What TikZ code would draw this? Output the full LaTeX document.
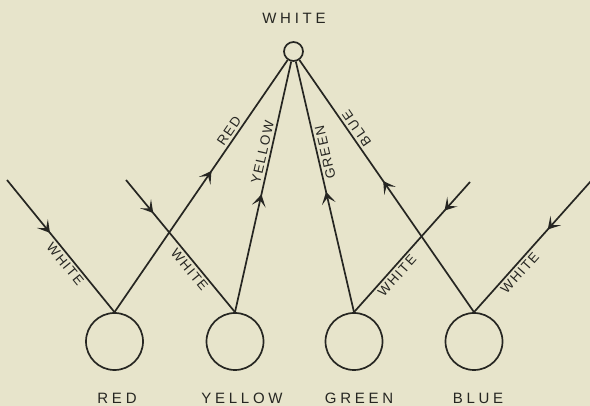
\documentclass[tikz,border=0pt]{standalone}
\usepackage{fontspec}
\setmainfont{Liberation Sans}
\newfontfamily\lblfont[LetterSpace=12]{Liberation Sans}
\newfontfamily\capfont[LetterSpace=25]{Liberation Sans}
\usetikzlibrary{arrows.meta,decorations.markings}
\definecolor{paper}{RGB}{231,228,203}
\definecolor{ink}{RGB}{38,38,34}
\tikzset{
  ray/.style={draw=ink, line width=1.7pt},
  lens/.style={circle, draw=ink, line width=1.7pt, minimum size=57pt, inner sep=0pt},
  spot/.style={circle, draw=ink, line width=1.7pt, minimum size=19pt, inner sep=0pt},
  arr/.style={postaction={decorate}, decoration={markings,
      mark=at position #1 with {\arrow[ink]{Stealth[length=12pt,width=14pt,inset=6pt]}}}},
  raylbl/.style={font=\lblfont\fontsize{13.5}{13.5}\selectfont, text=ink, sloped, inner sep=2.5pt},
  caption/.style={font=\capfont\fontsize{15}{15}\selectfont, text=ink, inner sep=0pt}
}
\begin{document}
\begin{tikzpicture}[x=1pt,y=-1pt]
\path[use as bounding box, fill=paper] (0,0) rectangle (590,406);

% colour discs and the white spot
\node[lens] (red) at (114.5,341.5) {};
\node[lens] (yellow) at (235,341.5) {};
\node[lens] (green) at (354,341.5) {};
\node[lens] (blue) at (474,341.5) {};
\node[spot] (w) at (293.5,51.5) {};

% captions
\node[caption] (tw) at (294,18) {WHITE};
\node[caption] (cr) at (117,398) {RED};
\node[caption] (cy) at (242,398) {YELLOW};
\node[caption] (cg) at (359,398) {GREEN};
\node[caption] (cb) at (478,398) {BLUE};

% incoming white rays
\coordinate (s1) at (7,180);
\coordinate (s2) at (126,180);
\coordinate (s3) at (470,182);
\coordinate (s4) at (591,181);

\draw[ray, arr=0.4] (s1) -- (red.north) node[raylbl, pos=0.6, below] {WHITE};
\draw[ray, arr=0.25] (s2) -- (yellow.north) node[raylbl, pos=0.64, below] {WHITE};
\draw[ray, arr=0.22] (s3) -- (green.north) node[raylbl, pos=0.68, below] {WHITE};
\draw[ray, arr=0.37] (s4) -- (blue.north) node[raylbl, pos=0.66, below] {WHITE};

% outgoing coloured rays
\draw[ray, arr=0.56] (red.north) -- (w) node[raylbl, pos=0.70, above] {RED};
\draw[ray, arr=0.47] (yellow.north) -- (w) node[raylbl, pos=0.63, above] {YELLOW};
\draw[ray, arr=0.48] (green.north) -- (w) node[raylbl, allow upside down, pos=0.63, below] {GREEN};
\draw[ray, arr=0.52] (blue.north) -- (w) node[raylbl, allow upside down, pos=0.71, below] {BLUE};
\end{tikzpicture}
\end{document}
